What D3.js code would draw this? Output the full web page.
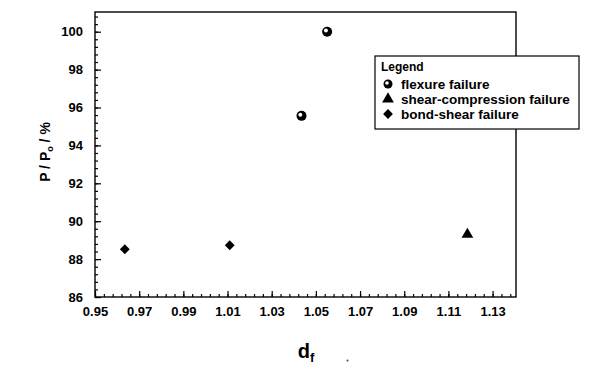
<!DOCTYPE html>
<meta charset="utf-8">
<script src="https://d3js.org/d3.v7.min.js"></script>
<style>
body { margin: 0; background: #fff; }
text { fill: #000; font-family: Arial, "Liberation Sans", sans-serif; }
.tick text { font-size: 13px; font-weight: bold; }
.tick line { stroke: #000; stroke-width: 1.2px; }
</style>
<body>
<script>
// data
var flexureX = [1.0435, 1.0551];
var flexureY = [95.56, 100.0];
var shearX = [1.1186];
var shearY = [89.3];
var bondX = [0.9635, 1.011];
var bondY = [88.52, 88.73];
var xTicks = [0.95, 0.97, 0.99, 1.01, 1.03, 1.05, 1.07, 1.09, 1.11, 1.13];
var yTicks = [86, 88, 90, 92, 94, 96, 98, 100];
var legendLabels = ['flexure failure', 'shear-compression failure', 'bond-shear failure'];

var margin = {top: 12, right: 84, bottom: 72, left: 95};
var W = 600, H = 369;
var w = W - margin.left - margin.right;
var h = H - margin.top - margin.bottom;

var svg = d3.select('body').append('svg')
    .attr('width', W)
    .attr('height', H);

var g = svg.append('g')
    .attr('transform', 'translate(' + margin.left + ',' + margin.top + ')');

var x = d3.scaleLinear().domain([0.95, 1.1406]).range([0, w]);
var y = d3.scaleLinear().domain([86, 101.04]).range([h, 0]);

// minor ticks
var xMinor = d3.range(0, 48).map(function(i) { return 0.95 + i * 0.004; });
var yMinor = d3.range(0, 38).map(function(i) { return 86 + i * 0.4; });

g.append('g')
    .attr('transform', 'translate(0,' + h + ')')
    .call(d3.axisBottom(x).tickValues(xMinor).tickSize(-3).tickFormat(''))
    .call(function(s) { s.select('.domain').remove(); });
g.append('g')
    .call(d3.axisLeft(y).tickValues(yMinor).tickSize(-3).tickFormat(''))
    .call(function(s) { s.select('.domain').remove(); });

// major ticks + labels
g.append('g')
    .attr('transform', 'translate(0,' + h + ')')
    .call(d3.axisBottom(x).tickValues(xTicks).tickSize(-6).tickPadding(10).tickFormat(d3.format('.2f')))
    .call(function(s) { s.select('.domain').remove(); });
g.append('g')
    .call(d3.axisLeft(y).tickValues(yTicks).tickSize(-6).tickPadding(12).tickFormat(d3.format('d')))
    .call(function(s) { s.select('.domain').remove(); });

// frame
g.append('rect')
    .attr('width', w)
    .attr('height', h)
    .attr('fill', 'none')
    .attr('stroke', '#000')
    .attr('stroke-width', 1.4);

// flexure points (ball)
flexureX.forEach(function(d, i) {
    var cx = x(d), cy = y(flexureY[i]);
    g.append('circle').attr('cx', cx).attr('cy', cy).attr('r', 5).attr('fill', '#000');
    g.append('circle').attr('cx', cx - 1.2).attr('cy', cy - 1.2).attr('r', 2).attr('fill', '#fff');
});

// shear-compression (triangle)
var tri = d3.symbol().type(d3.symbolTriangle).size(60);
shearX.forEach(function(d, i) {
    g.append('path').attr('d', tri)
        .attr('transform', 'translate(' + x(d) + ',' + y(shearY[i]) + ')')
        .attr('fill', '#000');
});

// bond-shear (diamond = rotated square)
var dia = d3.symbol().type(d3.symbolSquare).size(48);
bondX.forEach(function(d, i) {
    g.append('path').attr('d', dia)
        .attr('transform', 'translate(' + x(d) + ',' + y(bondY[i]) + ') rotate(45)')
        .attr('fill', '#000');
});

// legend
var lg = svg.append('g').attr('transform', 'translate(375,56)');
lg.append('rect')
    .attr('width', 204).attr('height', 73)
    .attr('fill', '#fff').attr('stroke', '#000').attr('stroke-width', 1.2);
lg.append('text').attr('x', 6).attr('y', 15)
    .style('font-size', '12px').style('font-weight', 'bold').text('Legend');
legendLabels.forEach(function(t, i) {
    var yy = 29 + i * 15;
    if (i === 0) {
        lg.append('circle').attr('cx', 13).attr('cy', yy - 1).attr('r', 4.5).attr('fill', '#000');
        lg.append('circle').attr('cx', 12).attr('cy', yy - 2).attr('r', 1.8).attr('fill', '#fff');
    } else if (i === 1) {
        lg.append('path').attr('d', tri)
            .attr('transform', 'translate(13,' + (yy - 1) + ')').attr('fill', '#000');
    } else {
        lg.append('path').attr('d', dia)
            .attr('transform', 'translate(13,' + (yy - 1) + ') rotate(45)').attr('fill', '#000');
    }
    lg.append('text').attr('x', 26).attr('y', yy + 4)
        .style('font-size', '13.5px').style('font-weight', 'bold').text(t);
});

// axis titles
var yl = svg.append('text')
    .attr('transform', 'translate(50,152) rotate(-90)')
    .attr('text-anchor', 'middle')
    .style('font-size', '14px').style('font-weight', 'bold');
yl.append('tspan').text('P / P');
yl.append('tspan').attr('dy', 3).style('font-size', '9px').text('o');
yl.append('tspan').attr('dy', -3).text(' / %');

var xl = svg.append('text')
    .attr('x', 306).attr('y', 358)
    .attr('text-anchor', 'middle')
    .style('font-size', '20px').style('font-weight', 'bold');
xl.append('tspan').text('d');
xl.append('tspan').attr('dy', 4).style('font-size', '13px').text('f');

svg.append('circle').attr('cx', 347.5).attr('cy', 360.5).attr('r', 1).attr('fill', '#444');
</script>
</body>
</html>
